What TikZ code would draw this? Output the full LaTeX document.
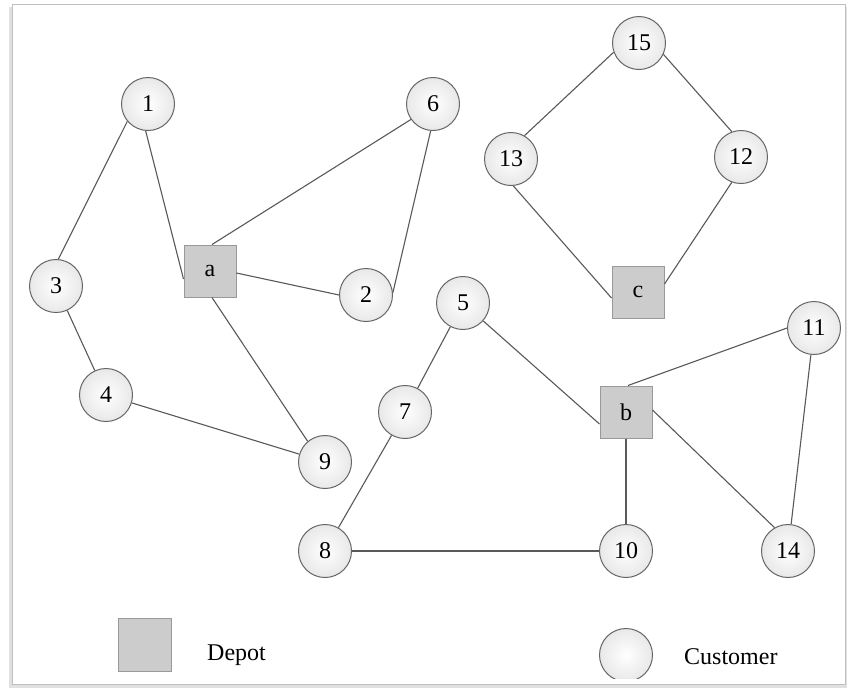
\documentclass[tikz,border=0pt]{standalone}
\usepackage{fontspec}
\setmainfont{Liberation Serif}
\begin{document}
\begin{tikzpicture}[x=1pt,y=-1pt,
  cust/.style={circle,draw=black!60,line width=1pt,inner color=white,outer color=black!9,minimum size=53pt,inner sep=0pt,font=\fontsize{24}{26}\selectfont},
  depot/.style={rectangle,draw=black!40,line width=1pt,fill=black!20,minimum size=52pt,inner sep=0pt,font=\fontsize{24}{26}\selectfont},
  edge/.style={draw=black!65,line width=1.1pt},
  legtext/.style={anchor=west,font=\fontsize{24}{26}\selectfont,inner sep=0pt}]
\useasboundingbox (0,0) rectangle (848,689);
% frame
\fill[black!12] (9,7) rectangle (847,688);
\fill[white] (12,4) rectangle (845,684);
\draw[black!25,line width=1pt] (12,4) rectangle (845,684);
% nodes
\node[cust] (n1) at (148,104) {1};
\node[cust] (n6) at (433,104) {6};
\node[cust] (n3) at (56,286) {3};
\node[depot] (a) at (210,271) {a};
\node[cust] (n2) at (366,295) {2};
\node[cust] (n4) at (106,395) {4};
\node[cust] (n9) at (325,462) {9};
\node[cust] (n15) at (639,43) {15};
\node[cust] (n13) at (511,159) {13};
\node[cust] (n12) at (741,157) {12};
\node[depot] (c) at (638,292) {c};
\node[cust] (n5) at (463,303) {5};
\node[cust] (n11) at (814,328) {11};
\node[cust] (n7) at (405,412) {7};
\node[depot] (b) at (626,412) {b};
\node[cust] (n8) at (325,551) {8};
\node[cust] (n10) at (626,551) {10};
\node[cust] (n14) at (788,551) {14};
% edges
\draw[edge] (n1.220) -- (n3.85);
\draw[edge] (n1.265) -- ([yshift=-8pt]a.west);
\draw[edge] (n6.215) -- ([xshift=2pt]a.north);
\draw[edge] (n6.265) -- (n2.5);
\draw[edge] ([yshift=-2pt]a.east) -- (n2.west);
\draw[edge] ([xshift=2pt]a.south) -- (n9.130);
\draw[edge] (n3) -- (n4);
\draw[edge] (n4) -- (n9);
\draw[edge] (n15.200) -- (n13.60);
\draw[edge] (n15.335) -- (n12.110);
\draw[edge] (n13.275) -- ([yshift=-6pt]c.west);
\draw[edge] (n12.250) -- ([yshift=8pt]c.east);
\draw[edge] (n5) -- ([yshift=-12pt]b.west);
\draw[edge] (n5) -- (n7);
\draw[edge] (n7) -- (n8);
\draw[edge] (n8) -- (n10);
\draw[edge] (b) -- (n10);
\draw[edge] ([xshift=2pt]b.north) -- (n11.west);
\draw[edge] ([yshift=2pt]b.east) -- (n14.120);
\draw[edge] (n11) -- (n14);
% legend
\node[depot,minimum size=53pt] (legdepot) at (145,645) {};
\node[legtext] (legdepottext) at (207,655) {Depot};
\begin{scope}
\clip (560,600) rectangle (700,678);
\node[cust] (legcust) at (626,655) {};
\end{scope}
\node[legtext] (legcusttext) at (684,657) {Customer};
\end{tikzpicture}
\end{document}
